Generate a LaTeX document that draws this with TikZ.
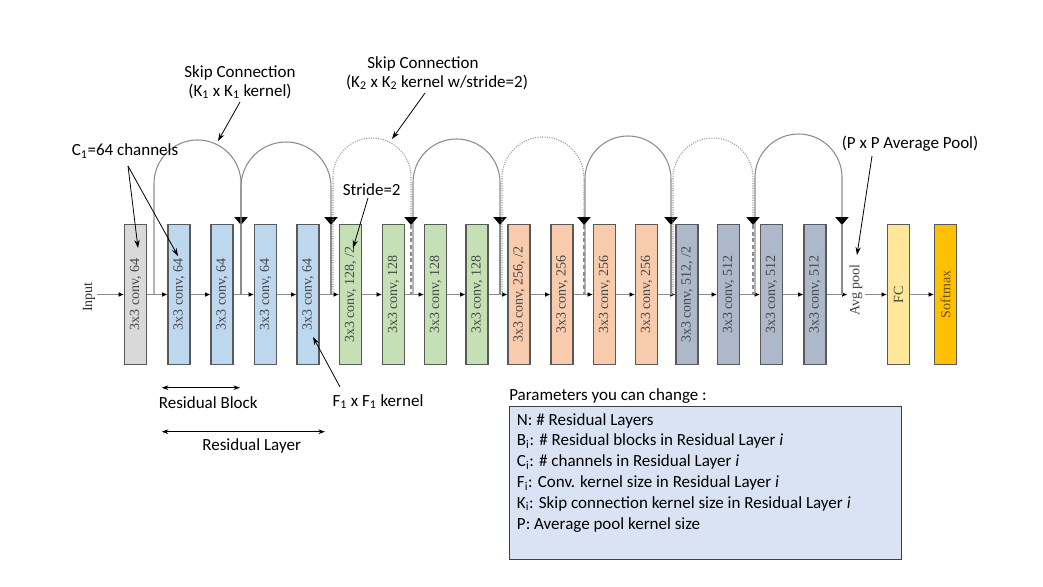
\documentclass[tikz,border=0pt]{standalone}
\usepackage{fontspec}
\setmainfont{Carlito}
\newfontfamily\timesf{Liberation Serif}
\usepackage{graphicx}
\usetikzlibrary{arrows.meta}
\definecolor{cgray}{HTML}{D9D9D9}
\definecolor{cblue}{HTML}{BDD7EE}
\definecolor{cgreen}{HTML}{C5E0B4}
\definecolor{corange}{HTML}{F8CBAD}
\definecolor{cslate}{HTML}{ADB9CA}
\definecolor{cfc}{HTML}{FFE699}
\definecolor{csoft}{HTML}{FFC000}
\definecolor{cparam}{HTML}{DAE3F3}
\definecolor{cedge}{HTML}{595959}
\definecolor{csofttext}{HTML}{6B5200}
\begin{document}
\begin{tikzpicture}[x=0.75pt,y=-0.75pt,
  layerbox/.style={draw=cedge, line width=0.9pt, minimum width=16.5pt, minimum height=105pt, inner sep=0pt, font=\timesf\fontsize{10.5}{12}\selectfont, text=black!72},
  flow/.style={draw=black!45, line width=0.6pt, -{Latex[length=4pt,width=3.5pt,color=black]}},
  skip/.style={draw=black!45, line width=0.8pt},
  skipdot/.style={draw=black!40, line width=0.8pt, densely dotted},
  skiptip/.style={-{Triangle[width=10pt,length=6pt,color=black]}},
  lbl/.style={font=\fontsize{12.75}{15}\selectfont, inner sep=0pt},
  pointer/.style={draw=black, line width=0.6pt, -{Stealth[length=6pt,width=4pt]}},
  dimarrow/.style={draw=black, line width=0.6pt, {Stealth[length=5pt,width=3.5pt]}-{Stealth[length=5pt,width=3.5pt]}},
]
\useasboundingbox[fill=white] (0,0) rectangle (1043,586);

% layer boxes
\node[layerbox, fill=cgray]   (b1)  at (135.5,294.5) {\rotatebox{90}{3x3 conv, 64}};
\node[layerbox, fill=cblue]   (b2)  at (179,294.5)   {\rotatebox{90}{3x3 conv, 64}};
\node[layerbox, fill=cblue]   (b3)  at (222,294.5)   {\rotatebox{90}{3x3 conv, 64}};
\node[layerbox, fill=cblue]   (b4)  at (265.5,294.5) {\rotatebox{90}{3x3 conv, 64}};
\node[layerbox, fill=cblue]   (b5)  at (308,294.5)   {\rotatebox{90}{3x3 conv, 64}};
\node[layerbox, fill=cgreen]  (b6)  at (350.5,294.5) {\rotatebox{90}{3x3 conv, 128, /2}};
\node[layerbox, fill=cgreen]  (b7)  at (393.5,294.5) {\rotatebox{90}{3x3 conv, 128}};
\node[layerbox, fill=cgreen]  (b8)  at (435.5,294.5) {\rotatebox{90}{3x3 conv, 128}};
\node[layerbox, fill=cgreen]  (b9)  at (477,294.5)   {\rotatebox{90}{3x3 conv, 128}};
\node[layerbox, fill=corange] (b10) at (519,294.5)   {\rotatebox{90}{3x3 conv, 256, /2}};
\node[layerbox, fill=corange] (b11) at (562,294.5)   {\rotatebox{90}{3x3 conv, 256}};
\node[layerbox, fill=corange] (b12) at (604.5,294.5) {\rotatebox{90}{3x3 conv, 256}};
\node[layerbox, fill=corange] (b13) at (646.5,294.5) {\rotatebox{90}{3x3 conv, 256}};
\node[layerbox, fill=cslate]  (b14) at (687,294.5)   {\rotatebox{90}{3x3 conv, 512, /2}};
\node[layerbox, fill=cslate]  (b15) at (728.5,294.5) {\rotatebox{90}{3x3 conv, 512}};
\node[layerbox, fill=cslate]  (b16) at (771.5,294.5) {\rotatebox{90}{3x3 conv, 512}};
\node[layerbox, fill=cslate]  (b17) at (815,294.5)   {\rotatebox{90}{3x3 conv, 512}};
\node[layerbox, fill=cfc]     (fc)  at (898.5,294.5) {\rotatebox{90}{FC}};
\node[layerbox, fill=csoft, text=csofttext] (sm) at (945.5,294.5) {\rotatebox{90}{Softmax}};

\node[font=\timesf\fontsize{10.5}{12}\selectfont, text=black!80, inner sep=1pt] (in) at (89,297) {\rotatebox{90}{Input}};
\node[font=\timesf\fontsize{10.5}{12}\selectfont, text=black!75, inner sep=1.5pt] (avg) at (856,290) {\rotatebox{90}{Avg pool}};

% main flow
\draw[flow] (in.east |- b1.west) -- (b1.west);
\foreach \a/\b in {b1/b2,b2/b3,b3/b4,b4/b5,b5/b6,b6/b7,b7/b8,b8/b9,b9/b10,b10/b11,b11/b12,b12/b13,b13/b14,b14/b15,b15/b16,b16/b17}
  \draw[flow] (\a.east) -- (\b.west);
\draw[flow] (b17.east) -- (avg.west |- b17.east);
\draw[flow] (avg.east |- fc.west) -- (fc.west);
\draw[flow] (fc.east) -- (sm.west);

% skip connection junctions on the main line and arrowhead tips
\coordinate (j0) at (154,294.5);
\coordinate (j1) at (241,294.5);
\coordinate (j2) at (331,294.5);
\coordinate (k2) at (333,294.5);
\coordinate (j3) at (411,294.5);
\coordinate (k3) at (413,294.5);
\coordinate (j4) at (500,294.5);
\coordinate (k4) at (502,294.5);
\coordinate (j5) at (584,294.5);
\coordinate (k5) at (585,294.5);
\coordinate (j6) at (671,294.5);
\coordinate (k6) at (673,294.5);
\coordinate (j7) at (753,294.5);
\coordinate (k7) at (755,294.5);
\coordinate (j8) at (842,294.5);
\foreach \i/\x in {1/241,2/331,3/411,4/500,5/584,6/671,7/753,8/842}
  \coordinate (t\i) at (\x,225);

% solid skips
\draw[skip,skiptip] (j0) -- (154,183.5) arc[start angle=180,end angle=0,radius=32.625pt] -- (t1);
\draw[skip] (t1) -- (j1);
\draw[skip,skiptip] (j1) -- (241,187) arc[start angle=180,end angle=0,radius=33.75pt] -- (t2);
\draw[skip] (t2) -- (j2);
\draw[skip,skiptip] (k3) -- (413,182.5) arc[start angle=180,end angle=0,radius=32.625pt] -- (t4);
\draw[skip] (t4) -- (j4);
\draw[skip,skiptip] (k5) -- (585,179) arc[start angle=180,end angle=0,radius=32.25pt] -- (t6);
\draw[skip] (t6) -- (j6);
\draw[skip,skiptip] (k7) -- (755,177.5) arc[start angle=180,end angle=0,radius=32.625pt] -- (t8);
\draw[skip] (t8) -- (j8);
% dotted (strided) skips
\draw[skipdot,skiptip] (k2) -- (333,177) arc[start angle=180,end angle=0,radius=29.25pt] -- (t3);
\draw[skip,dashed,dash pattern=on 3pt off 2pt] (t3) -- (j3);
\draw[skipdot,skiptip] (k4) -- (502,178) arc[start angle=180,end angle=0,radius=30.75pt] -- (t5);
\draw[skip,dashed,dash pattern=on 3pt off 2pt] (t5) -- (j5);
\draw[skipdot,skiptip] (k6) -- (673,178) arc[start angle=180,end angle=0,radius=30pt] -- (t7);
\draw[skip,dashed,dash pattern=on 3pt off 2pt] (t7) -- (j7);

% annotations
\node[lbl] (sk1a) at (240,73) {Skip Connection};
\node[lbl] (sk1b) at (240,91) {(K\textsubscript{1} x K\textsubscript{1} kernel)};
\coordinate (sk1s) at (240,102);
\coordinate (sk1e) at (218,141);
\draw[pointer] (sk1s) -- (sk1e);

\node[lbl] (sk2a) at (423,63.5) {Skip Connection};
\node[lbl] (sk2b) at (437,82) {(K\textsubscript{2} x K\textsubscript{2} kernel w/stride=2)};
\coordinate (sk2s) at (425,93);
\coordinate (sk2e) at (392,139);
\draw[pointer] (sk2s) -- (sk2e);

\node[lbl] (ch) at (125,151) {C\textsubscript{1}=64 channels};
\coordinate (chs) at (128,166);
\coordinate (che1) at (138,248);
\coordinate (che2) at (178,256);
\draw[pointer] (chs) -- (che1);
\draw[pointer] (chs) -- (che2);

\node[lbl] (st) at (371.7,189.3) {Stride=2};
\coordinate (sts) at (368,198);
\coordinate (ste) at (353,248);
\draw[pointer] (sts) -- (ste);

\node[lbl] (fk) at (378,401.7) {F\textsubscript{1} x F\textsubscript{1} kernel};
\coordinate (fks) at (340,387);
\coordinate (fke) at (313,337);
\draw[pointer] (fks) -- (fke);

\node[lbl] (pp) at (910,144) {(P x P Average Pool)};
\coordinate (pps) at (872,156);
\coordinate (ppe) at (857,255);
\draw[pointer] (pps) -- (ppe);

\coordinate (rb1) at (161.7,387.7);
\coordinate (rb2) at (240,387.7);
\draw[dimarrow] (rb1) -- (rb2);
\node[lbl] (rbt) at (208.3,403) {Residual Block};

\coordinate (rl1) at (161.7,431.7);
\coordinate (rl2) at (325,431.7);
\draw[dimarrow] (rl1) -- (rl2);
\node[lbl] (rlt) at (251.7,446) {Residual Layer};

% parameters box
\node[lbl, anchor=west] (ptitle) at (509,396) {Parameters you can change :};
\node[draw=black!75, line width=0.8pt, fill=cparam, anchor=north west, minimum width=293.8pt, minimum height=115.2pt, inner sep=0pt] (params) at (509.3,405.7) {};
\node[lbl, anchor=north west, align=left, font=\fontsize{12.75}{15.6}\selectfont] (ptext) at (516.7,413) {%
N: \# Residual Layers\\
B\textsubscript{i}: \# Residual blocks in Residual Layer \textit{i}\\
C\textsubscript{i}: \# channels in Residual Layer \textit{i}\\
F\textsubscript{i}: Conv. kernel size in Residual Layer \textit{i}\\
K\textsubscript{i}: Skip connection kernel size in Residual Layer \textit{i}\\
P: Average pool kernel size};
\end{tikzpicture}
\end{document}
